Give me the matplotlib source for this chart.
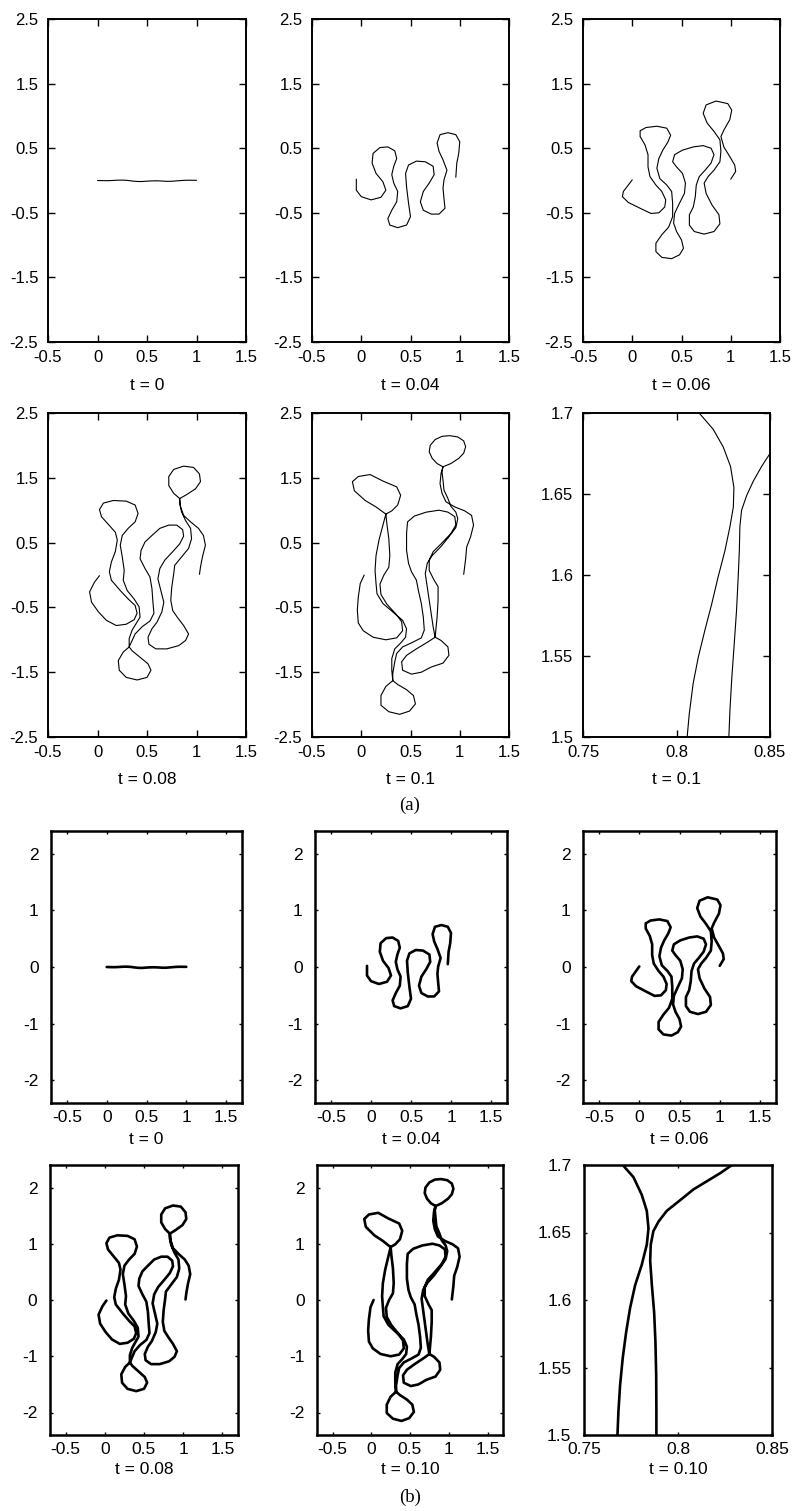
import matplotlib
matplotlib.use("Agg")
import matplotlib.pyplot as plt

plt.rcParams['font.family'] = ['Liberation Sans', 'DejaVu Sans']
plt.rcParams['axes.unicode_minus'] = False

# ---- interface curves (x, y in data units) ----

# t = 0
t0_x = [0.0, 0.05, 0.1, 0.15, 0.2, 0.25, 0.3, 0.35, 0.4, 0.45, 0.5, 0.55, 0.6, 0.65, 0.7,
        0.75, 0.8, 0.85, 0.9, 0.95, 1.0]
t0_y = [0.0, -0.002, -0.003, 0.0, 0.005, 0.006, 0.002, -0.008, -0.015, -0.016, -0.01, -0.006,
        -0.005, -0.008, -0.013, -0.012, -0.006, 0.0, 0.004, 0.004, 0.003]

# t = 0.04
t004_x = [-0.05, -0.05, 0.00, 0.10, 0.20, 0.25, 0.22, 0.15, 0.11, 0.12, 0.19, 0.27, 0.34, 0.36,
          0.33, 0.31, 0.33, 0.37, 0.36, 0.31, 0.27, 0.29, 0.37, 0.46, 0.50, 0.48, 0.46, 0.45,
          0.48, 0.56, 0.65, 0.73, 0.74, 0.69, 0.63, 0.60, 0.63, 0.71, 0.79, 0.85, 0.84, 0.83,
          0.84, 0.87, 0.83, 0.79, 0.77, 0.80, 0.88, 0.96, 1.00, 0.99, 0.97, 0.96]
t004_y = [0.02, -0.15, -0.25, -0.30, -0.26, -0.15, -0.02, 0.11, 0.27, 0.42, 0.51, 0.52, 0.46,
          0.34, 0.22, 0.09, -0.04, -0.17, -0.33, -0.46, -0.59, -0.69, -0.73, -0.69, -0.56,
          -0.35, -0.10, 0.11, 0.24, 0.30, 0.29, 0.22, 0.09, -0.04, -0.17, -0.33, -0.46, -0.52,
          -0.52, -0.43, -0.28, -0.12, 0.01, 0.16, 0.32, 0.45, 0.58, 0.71, 0.74, 0.71, 0.60,
          0.42, 0.27, 0.05]

# t = 0.06
t006_x = [0.00, -0.04, -0.09, -0.10, -0.04, 0.08, 0.19, 0.27, 0.33, 0.34, 0.30, 0.24, 0.18,
          0.16, 0.16, 0.13, 0.08, 0.08, 0.14, 0.25, 0.35, 0.39, 0.36, 0.31, 0.27, 0.25, 0.28,
          0.35, 0.40, 0.41, 0.41, 0.37, 0.30, 0.24, 0.24, 0.30, 0.40, 0.48, 0.52, 0.50, 0.45,
          0.42, 0.43, 0.48, 0.53, 0.54, 0.51, 0.45, 0.41, 0.43, 0.51, 0.62, 0.72, 0.80, 0.83,
          0.80, 0.74, 0.68, 0.65, 0.64, 0.62, 0.58, 0.58, 0.63, 0.73, 0.83, 0.89, 0.88, 0.81,
          0.75, 0.73, 0.77, 0.83, 0.89, 0.90, 0.89, 0.83, 0.76, 0.72, 0.75, 0.85, 0.97, 1.01,
          0.99, 0.93, 0.90, 0.93, 0.99, 1.04, 1.05, 1.00]
t006_y = [0.01, -0.07, -0.17, -0.25, -0.34, -0.43, -0.51, -0.50, -0.41, -0.30, -0.17, -0.07,
          0.06, 0.21, 0.40, 0.55, 0.68, 0.77, 0.82, 0.84, 0.81, 0.70, 0.59, 0.47, 0.34, 0.19,
          0.03, -0.07, -0.17, -0.35, -0.56, -0.72, -0.84, -0.97, -1.10, -1.19, -1.21, -1.15,
          -1.05, -0.92, -0.79, -0.66, -0.51, -0.35, -0.20, -0.04, 0.11, 0.21, 0.29, 0.40,
          0.47, 0.52, 0.54, 0.50, 0.40, 0.27, 0.16, 0.06, -0.07, -0.25, -0.41, -0.53, -0.69,
          -0.79, -0.83, -0.79, -0.67, -0.53, -0.38, -0.20, -0.04, 0.06, 0.16, 0.29, 0.45,
          0.63, 0.76, 0.89, 1.04, 1.17, 1.23, 1.19, 1.09, 0.94, 0.78, 0.68, 0.52, 0.37, 0.24,
          0.14, 0.02]

# t = 0.08
t008_x = [0.02, -0.03, -0.08, -0.06, 0.01, 0.09, 0.19, 0.29, 0.37, 0.40, 0.38, 0.31, 0.23,
          0.14, 0.12, 0.14, 0.18, 0.20, 0.18, 0.11, 0.04, 0.02, 0.06, 0.16, 0.29, 0.38, 0.41,
          0.38, 0.31, 0.25, 0.23, 0.25, 0.27, 0.26, 0.30, 0.37, 0.42, 0.43, 0.39, 0.35, 0.32,
          0.32, 0.26, 0.21, 0.22, 0.29, 0.40, 0.50, 0.54, 0.51, 0.43, 0.35, 0.32, 0.35, 0.38,
          0.45, 0.53, 0.57, 0.56, 0.55, 0.53, 0.48, 0.43, 0.44, 0.48, 0.55, 0.63, 0.72, 0.80,
          0.86, 0.87, 0.83, 0.76, 0.68, 0.63, 0.61, 0.64, 0.67, 0.65, 0.60, 0.55, 0.51, 0.52,
          0.59, 0.70, 0.82, 0.89, 0.92, 0.87, 0.81, 0.76, 0.74, 0.75, 0.77, 0.78, 0.85, 0.92,
          0.95, 0.94, 0.89, 0.85, 0.83, 0.83, 0.77, 0.72, 0.72, 0.77, 0.87, 0.97, 1.03, 1.04,
          0.99, 0.90, 0.83, 0.84, 0.87, 0.94, 1.02, 1.07, 1.09, 1.06, 1.04, 1.03]
t008_y = [-0.01, -0.11, -0.26, -0.42, -0.57, -0.70, -0.78, -0.76, -0.69, -0.59, -0.47, -0.37,
          -0.24, -0.08, 0.05, 0.20, 0.36, 0.54, 0.66, 0.78, 0.90, 1.01, 1.11, 1.15, 1.14, 1.08,
          0.95, 0.82, 0.72, 0.61, 0.46, 0.28, 0.07, -0.08, -0.24, -0.37, -0.49, -0.65, -0.75,
          -0.85, -0.98, -1.11, -1.19, -1.32, -1.47, -1.58, -1.62, -1.58, -1.47, -1.37, -1.27,
          -1.17, -1.11, -1.01, -0.91, -0.80, -0.71, -0.59, -0.42, -0.21, -0.03, 0.10, 0.25,
          0.38, 0.51, 0.61, 0.72, 0.77, 0.77, 0.70, 0.60, 0.48, 0.36, 0.23, 0.10, -0.06,
          -0.24, -0.42, -0.57, -0.73, -0.83, -0.96, -1.07, -1.14, -1.14, -1.09, -1.01, -0.91,
          -0.78, -0.66, -0.55, -0.39, -0.19, 0.02, 0.15, 0.28, 0.41, 0.56, 0.72, 0.84, 0.97,
          1.10, 1.18, 1.26, 1.38, 1.52, 1.63, 1.68, 1.66, 1.56, 1.44, 1.33, 1.24, 1.18, 1.05,
          0.92, 0.82, 0.72, 0.61, 0.46, 0.28, 0.12, 0.01]

# t = 0.1
t010_x = [0.03, -0.01, -0.03, -0.04, -0.03, 0.02, 0.12, 0.25, 0.36, 0.42, 0.41, 0.35, 0.26,
          0.20, 0.19, 0.23, 0.28, 0.29, 0.28, 0.26, 0.25,
          0.15, 0.04, -0.07, -0.09, -0.03, 0.09, 0.22, 0.36, 0.40, 0.37, 0.31, 0.25,
          0.22, 0.18, 0.15, 0.14, 0.15, 0.16, 0.22, 0.32, 0.42, 0.46, 0.45, 0.40, 0.34, 0.31,
          0.31, 0.32,
          0.25, 0.20, 0.20, 0.28, 0.39, 0.49, 0.55, 0.53, 0.46, 0.37, 0.32,
          0.32, 0.34, 0.36, 0.42, 0.52, 0.61, 0.64, 0.63, 0.61, 0.58, 0.56, 0.51, 0.48, 0.46,
          0.46, 0.47, 0.54, 0.66, 0.79, 0.88, 0.95, 0.96, 0.91, 0.81, 0.73, 0.69, 0.69, 0.74,
          0.78, 0.78, 0.77, 0.75,
          0.68, 0.56, 0.46, 0.41, 0.42, 0.51, 0.61, 0.71, 0.83, 0.89, 0.88, 0.81, 0.75,
          0.73, 0.71, 0.69, 0.67, 0.65, 0.67, 0.72, 0.81, 0.89, 0.96, 0.98, 0.96, 0.91, 0.88,
          0.84, 0.83, 0.82, 0.83,
          0.77, 0.72, 0.69, 0.70, 0.75, 0.82, 0.90, 0.98, 1.04, 1.06, 1.04, 0.99, 0.91, 0.83,
          0.81, 0.80, 0.82, 0.86, 0.95, 1.05, 1.12, 1.14, 1.11, 1.07, 1.06, 1.04]
t010_y = [0.00, -0.13, -0.34, -0.54, -0.74, -0.86, -0.96, -1.00, -0.97, -0.86, -0.72, -0.60,
          -0.45, -0.30, -0.14, 0.00, 0.12, 0.30, 0.56, 0.79, 0.94,
          1.05, 1.15, 1.30, 1.44, 1.52, 1.55, 1.45, 1.36, 1.23, 1.08, 0.99, 0.94,
          0.77, 0.54, 0.30, 0.07, -0.13, -0.29, -0.44, -0.57, -0.70, -0.83, -0.96, -1.05,
          -1.14, -1.29, -1.47, -1.63,
          -1.72, -1.86, -2.01, -2.11, -2.15, -2.10, -1.99, -1.86, -1.77, -1.69, -1.63,
          -1.52, -1.34, -1.21, -1.11, -1.04, -0.97, -0.85, -0.65, -0.44, -0.24, -0.08, 0.05,
          0.18, 0.38, 0.64, 0.82, 0.91, 0.97, 1.00, 0.97, 0.90, 0.77, 0.64, 0.48, 0.36, 0.23,
          0.07, -0.08, -0.18, -0.39, -0.65, -0.96,
          -1.03, -1.14, -1.24, -1.34, -1.47, -1.53, -1.50, -1.42, -1.36, -1.24, -1.11, -1.01,
          -0.96,
          -0.80, -0.60, -0.39, -0.18, 0.02, 0.18, 0.30, 0.44, 0.59, 0.73, 0.87, 0.97, 1.06,
          1.18, 1.31, 1.46, 1.59, 1.67,
          1.72, 1.80, 1.90, 2.00, 2.09, 2.14, 2.15, 2.13, 2.07, 1.98, 1.88, 1.80, 1.72, 1.67,
          1.57, 1.41, 1.26, 1.13, 1.05, 0.99, 0.92, 0.77, 0.59, 0.43, 0.25, 0.01]

# close-up at t = 0.1, upper set of panels
zoom_a_left_x = [0.8121, 0.8196, 0.8250, 0.8289, 0.8307, 0.8304, 0.8286, 0.8259, 0.8223,
                 0.8188, 0.8152, 0.8116, 0.8089, 0.8068, 0.8057]
zoom_a_left_y = [1.700, 1.690, 1.679, 1.667, 1.654, 1.642, 1.630, 1.615, 1.599, 1.582, 1.566,
                 1.549, 1.533, 1.514, 1.500]
zoom_a_right_x = [0.8500, 0.8455, 0.8411, 0.8375, 0.8348, 0.8339, 0.8336, 0.8330, 0.8321,
                  0.8309, 0.8296, 0.8286, 0.8280]
zoom_a_right_y = [1.675, 1.667, 1.658, 1.649, 1.640, 1.630, 1.615, 1.599, 1.578, 1.558,
                  1.537, 1.517, 1.500]

# close-up at t = 0.10, lower set of panels
zoom_b_left_x = [0.7706, 0.7763, 0.7807, 0.7834, 0.7843, 0.7834, 0.7807, 0.7772, 0.7745,
                 0.7724, 0.7706, 0.7692, 0.7683, 0.7678]
zoom_b_left_y = [1.700, 1.691, 1.678, 1.666, 1.653, 1.641, 1.626, 1.611, 1.594, 1.576,
                 1.557, 1.537, 1.517, 1.500]
zoom_b_right_x = [0.8287, 0.8225, 0.8154, 0.8083, 0.8012, 0.7940, 0.7896, 0.7869, 0.7855,
                  0.7852, 0.7861, 0.7873, 0.7880, 0.7884, 0.7885, 0.7885]
zoom_b_right_y = [1.700, 1.694, 1.688, 1.682, 1.674, 1.666, 1.658, 1.651, 1.641, 1.629,
                  1.611, 1.591, 1.569, 1.544, 1.519, 1.500]

# tick values and labels
a_xticks = [-0.5, 0, 0.5, 1, 1.5]
a_xlabels = ["-0.5", "0", "0.5", "1", "1.5"]
a_yticks = [-2.5, -1.5, -0.5, 0.5, 1.5, 2.5]
a_ylabels = ["-2.5", "-1.5", "-0.5", "0.5", "1.5", "2.5"]
b_xticks = [-0.5, 0, 0.5, 1, 1.5]
b_xlabels = ["-0.5", "0", "0.5", "1", "1.5"]
b_yticks = [-2, -1, 0, 1, 2]
b_ylabels = ["-2", "-1", "0", "1", "2"]
z_xticks = [0.75, 0.8, 0.85]
z_xlabels = ["0.75", "0.8", "0.85"]
z_yticks = [1.5, 1.55, 1.6, 1.65, 1.7]
z_ylabels = ["1.5", "1.55", "1.6", "1.65", "1.7"]

titles_a = ["t = 0", "t = 0.04", "t = 0.06", "t = 0.08", "t = 0.1", "t = 0.1"]
titles_b = ["t = 0", "t = 0.04", "t = 0.06", "t = 0.08", "t = 0.10", "t = 0.10"]

W, H = 794, 1511
fig = plt.figure(figsize=(W / 100, H / 100), dpi=100)


def panel(box, curves, xlim, ylim, xt, xl, yt, yl, lw, spw, tlen, fs, xpad, ypad):
    # box is (left, top, right, bottom) in pixels
    l, t, r, b = box
    ax = fig.add_axes([l / W, 1 - b / H, (r - l) / W, (b - t) / H])
    for cx, cy in curves:
        ax.plot(cx, cy, color="black", lw=lw, solid_joinstyle="round", solid_capstyle="round")
    ax.set_xlim(xlim)
    ax.set_ylim(ylim)
    ax.set_xticks(xt)
    ax.set_xticklabels(xl)
    ax.set_yticks(yt)
    ax.set_yticklabels(yl)
    ax.tick_params(direction="in", top=True, right=True, length=tlen, width=1.0,
                   labelsize=fs, colors="black")
    ax.tick_params(axis="x", pad=xpad)
    ax.tick_params(axis="y", pad=ypad)
    for s in ax.spines.values():
        s.set_linewidth(spw)
    return ax


big_curves = [[(t0_x, t0_y)], [(t004_x, t004_y)], [(t006_x, t006_y)],
              [(t008_x, t008_y)], [(t010_x, t010_y)]]

# ---- (a) ----
a_boxes = [(48, 19, 246, 342), (312, 19, 509, 342), (583, 19, 780, 342),
           (48, 413, 246, 737), (312, 413, 509, 737), (583, 413, 770, 737)]
a_title_y = [385, 385, 385, 779, 779, 779]
for i, box in enumerate(a_boxes):
    if i < 5:
        panel(box, big_curves[i], (-0.5, 1.5), (-2.5, 2.5), a_xticks, a_xlabels,
              a_yticks, a_ylabels, 0.8, 1.4, 5, 12, 6, 7)
    else:
        panel(box, [(zoom_a_left_x, zoom_a_left_y), (zoom_a_right_x, zoom_a_right_y)],
              (0.75, 0.85), (1.5, 1.7), z_xticks, z_xlabels, z_yticks, z_ylabels,
              0.8, 1.4, 5, 12, 6, 7)
    cx = (box[0] + box[2]) / 2
    fig.text(cx / W, 1 - a_title_y[i] / H, titles_a[i], ha="center", va="center", fontsize=12.5)

fig.text(410 / W, 1 - 805 / H, "(a)", ha="center", va="center", fontsize=13.5,
         family=["Liberation Serif", "DejaVu Serif"])

# ---- (b) ----
b_boxes = [(51, 831, 242, 1103), (315, 831, 507, 1103), (583, 831, 776, 1103),
           (50, 1165, 238, 1435), (317, 1165, 503, 1435), (584, 1165, 772, 1435)]
b_title_y = [1139, 1139, 1139, 1470, 1470, 1470]
for i, box in enumerate(b_boxes):
    if i < 5:
        panel(box, big_curves[i], (-0.7, 1.7), (-2.4, 2.4), b_xticks, b_xlabels,
              b_yticks, b_ylabels, 1.9, 1.8, 2.5, 12.5, 5, 9)
    else:
        panel(box, [(zoom_b_left_x, zoom_b_left_y), (zoom_b_right_x, zoom_b_right_y)],
              (0.75, 0.85), (1.5, 1.7), z_xticks, z_xlabels, z_yticks, z_ylabels,
              1.9, 1.8, 2.5, 12.5, 5, 9)
    cx = (box[0] + box[2]) / 2
    fig.text(cx / W, 1 - b_title_y[i] / H, titles_b[i], ha="center", va="center", fontsize=12.5)

fig.text(410 / W, 1 - 1497 / H, "(b)", ha="center", va="center", fontsize=13.5,
         family=["Liberation Serif", "DejaVu Serif"])

fig.savefig("out.png", dpi=100)
